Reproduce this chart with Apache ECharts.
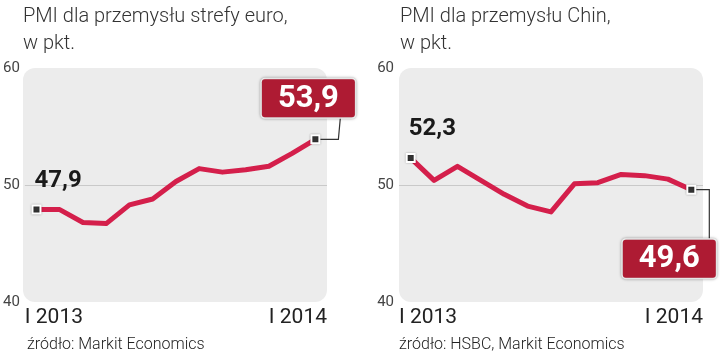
<!DOCTYPE html>
<html><head><meta charset="utf-8">
<script src="https://cdn.jsdelivr.net/npm/echarts@6/dist/echarts.min.js"></script>
<style>html,body{margin:0;padding:0;background:#fff}#c{width:720px;height:355px}</style>
</head><body><div id="c"></div>
<script>
const months = ['I 2013','II','III','IV','V','VI','VII','VIII','IX','X','XI','XII','I 2014'];
const euroPMI = [47.9, 47.9, 46.8, 46.7, 48.3, 48.8, 50.3, 51.4, 51.1, 51.3, 51.6, 52.7, 53.9];
const chinaPMI = [52.3, 50.4, 51.6, 50.4, 49.2, 48.2, 47.7, 50.1, 50.2, 50.9, 50.8, 50.5, 49.6];
const yTicks = [40, 50, 60];
const xTickLabels = ['I 2013', 'I 2014'];
const titles = ['PMI dla przemysłu strefy euro,\nw pkt.', 'PMI dla przemysłu Chin,\nw pkt.'];
const sources = ['źródło: Markit Economics', 'źródło: HSBC, Markit Economics'];

const RED = '#d41f4b';
const BOX = '#ae1b33';
const BOLD = "Roboto, sans-serif";
const grids = [{left: 23, top: 68, width: 304, height: 234}, {left: 399, top: 68, width: 304, height: 234}];

const chart = echarts.init(document.getElementById('c'), null, {renderer: 'canvas'});

function fmt(v){ return String(v.toFixed(1)).replace('.', ','); }

function seriesFor(idx, data, lastLabel) {
  const n = data.length;
  return {
    type: 'line', xAxisIndex: idx * 2, yAxisIndex: idx,
    data: data.map((v, i) => {
      if (i === 0) return {value: v, label: {show: true, position: 'top', distance: 12, align: 'left', offset: [-2, 0],
        formatter: fmt(v), fontFamily: BOLD, fontWeight: 'bold', fontSize: 24, color: '#1a1a1a'}};
      if (i === n - 1) return {value: v, label: Object.assign({show: true, formatter: fmt(v), fontFamily: BOLD, fontWeight: 'bold',
        fontSize: 31, color: '#fff', backgroundColor: BOX, borderColor: '#fff', borderWidth: 1.5, borderRadius: 3,
        padding: [4, 16, 3, 16], shadowColor: 'rgba(0,0,0,0.35)', shadowBlur: 3}, lastLabel)};
      return v;
    }),
    symbol: 'rect',
    symbolSize: (v, p) => (p.dataIndex === 0 || p.dataIndex === n - 1) ? 8 : 0,
    itemStyle: {color: '#333', borderColor: '#fff', borderWidth: 2, shadowColor: 'rgba(0,0,0,0.3)', shadowBlur: 2},
    lineStyle: {color: RED, width: 5, join: 'round'},
    z: 5, animation: false
  };
}

const titleStyle = {fontFamily: 'Roboto', fontWeight: 300, fontSize: 20, lineHeight: 27, color: '#333'};
const srcStyle = {fontFamily: 'Roboto', fontWeight: 300, fontSize: 16, color: '#222'};
const option = {
  animation: false,
  title: [
    {text: titles[0], left: 23, top: 3, padding: 0, textStyle: titleStyle},
    {text: titles[1], left: 400, top: 3, padding: 0, textStyle: titleStyle},
    {text: sources[0], left: 27, top: 337, padding: 0, textStyle: srcStyle},
    {text: sources[1], left: 399, top: 337, padding: 0, textStyle: srcStyle}
  ],
  grid: grids.map(g => Object.assign({containLabel: false}, g)),
  xAxis: [0, 1].flatMap(i => [
    {gridIndex: i, type: 'category', data: months, boundaryGap: true,
     axisLine: {show: false}, axisTick: {show: false}, axisLabel: {show: false}, splitLine: {show: false}},
    {gridIndex: i, type: 'value', min: 0, max: 1, interval: 1, position: 'bottom',
     axisLine: {show: false}, axisTick: {show: false}, splitLine: {show: false},
     axisLabel: {show: true, margin: 5, fontFamily: 'Roboto', fontWeight: 400, fontSize: 21, color: '#222',
       alignMinLabel: 'left', alignMaxLabel: 'right', formatter: v => xTickLabels[v]}}
  ]),
  yAxis: [0, 1].map(i => ({gridIndex: i, type: 'value', min: yTicks[0], max: yTicks[2], interval: 10,
    axisLine: {show: false}, axisTick: {show: false},
    axisLabel: {margin: 5, fontFamily: 'Roboto', fontSize: 15, color: '#444'},
    splitLine: {show: true, lineStyle: {color: ['rgba(0,0,0,0)', '#c9c9c9', 'rgba(0,0,0,0)'], width: 1}}})),
  series: [
    seriesFor(0, euroPMI, {position: 'top', distance: 17, offset: [-7, 0]}),
    seriesFor(1, chinaPMI, {position: 'bottom', distance: 45, offset: [-22, 0]})
  ]
};
chart.setOption(option);

// rounded plot backgrounds and leader lines computed from the library's scales
const gfx = [];
grids.forEach(g => gfx.push({type: 'rect', z: -10, silent: true,
  shape: {x: g.left, y: g.top, width: g.width, height: g.height, r: 12}, style: {fill: '#ececec'}}));
const p1 = chart.convertToPixel({xAxisIndex: 0, yAxisIndex: 0}, [euroPMI.length - 1, euroPMI[euroPMI.length - 1]]);
const p2 = chart.convertToPixel({xAxisIndex: 2, yAxisIndex: 1}, [chinaPMI.length - 1, chinaPMI[chinaPMI.length - 1]]);
gfx.push({type: 'polyline', z: 3, silent: true, shape: {points: [[p1[0], p1[1]], [p1[0] + 23, p1[1]], [p1[0] + 25, p1[1] - 22]]},
  style: {stroke: '#333', lineWidth: 1.2, fill: null}});
gfx.push({type: 'polyline', z: 3, silent: true, shape: {points: [[p2[0], p2[1]], [p2[0] + 18, p2[1]], [p2[0] + 18, p2[1] + 50]]},
  style: {stroke: '#333', lineWidth: 1.2, fill: null}});
chart.setOption({graphic: gfx});
</script></body></html>
